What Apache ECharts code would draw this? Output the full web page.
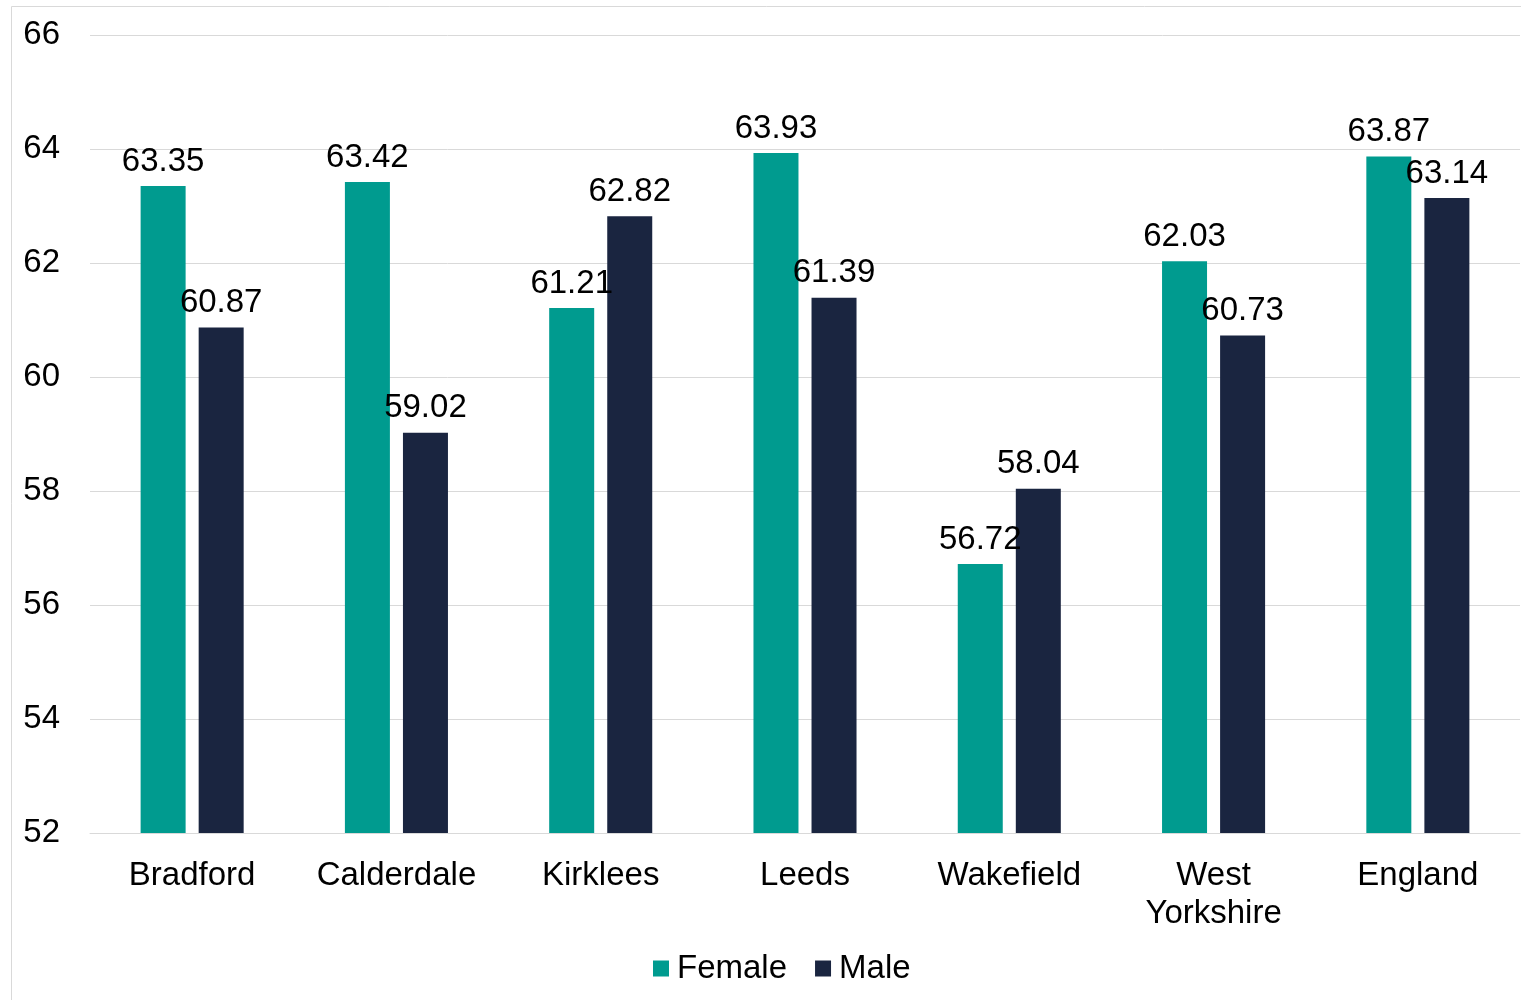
<!DOCTYPE html>
<html>
<head>
<meta charset="utf-8">
<script src="https://cdn.jsdelivr.net/npm/echarts@6/dist/echarts.min.js"></script>
<style>
  html, body { margin: 0; padding: 0; background: #fff; }
  #main { width: 1521px; height: 1000px; }
</style>
</head>
<body>
<div id="main"></div>
<script>
const categories = ['Bradford', 'Calderdale', 'Kirklees', 'Leeds', 'Wakefield', 'West\nYorkshire', 'England']
const female = [63.35, 63.42, 61.21, 63.93, 56.72, 62.03, 63.87]
const male = [60.87, 59.02, 62.82, 61.39, 58.04, 60.73, 63.14]

const chart = echarts.init(document.getElementById('main'))
const font = 'Liberation Sans, Arial, sans-serif'

// data label above each bar
const labelOption = {
  show: true,
  position: 'top',
  distance: 8,
  color: '#000',
  fontFamily: font,
  fontSize: 33,
  formatter: p => p.value.toFixed(2),
}

const option = {
  animation: false,
  graphic: [
    {
      type: 'rect',
      shape: { x: 11.5, y: 6.5, width: 1600, height: 1100 },
      style: { fill: 'none', stroke: '#d9d9d9', lineWidth: 1 },
      silent: true,
    },
  ],
  grid: { left: 90, right: 1, top: 35, bottom: 167 },
  legend: {
    bottom: 10,
    left: 648,
    itemWidth: 16,
    itemHeight: 16,
    itemGap: 28,
    icon: 'rect',
    textStyle: { fontFamily: font, fontSize: 33, color: '#000', padding: [0, 0, 0, 3] },
    data: ['Female', 'Male'],
  },
  xAxis: {
    type: 'category',
    data: categories,
    axisLine: { lineStyle: { color: '#d9d9d9', width: 1 } },
    axisTick: { show: false },
    axisLabel: {
      color: '#000',
      fontFamily: font,
      fontSize: 33,
      margin: 24,
      lineHeight: 38,
      interval: 0,
    },
  },
  yAxis: {
    type: 'value',
    min: 52,
    max: 66,
    interval: 2,
    axisLine: { show: false },
    axisTick: { show: false },
    splitLine: { lineStyle: { color: '#d9d9d9', width: 1 } },
    axisLabel: { color: '#000', fontFamily: font, fontSize: 33, margin: 30, padding: [4, 0, 0, 0] },
  },
  series: [
    {
      name: 'Female',
      type: 'bar',
      data: female,
      barWidth: 45,
      barGap: '29%',
      itemStyle: { color: '#009B8F' },
      label: labelOption,
    },
    {
      name: 'Male',
      type: 'bar',
      data: male,
      barWidth: 45,
      itemStyle: { color: '#1A2540' },
      label: labelOption,
    },
  ],
}

chart.setOption(option)
</script>
</body>
</html>
